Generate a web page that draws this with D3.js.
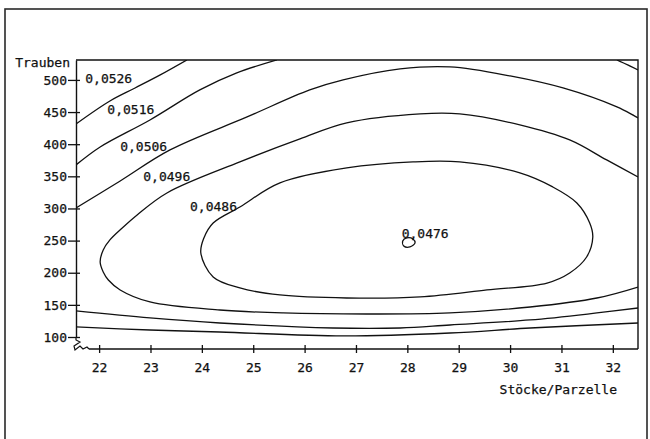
<!DOCTYPE html>
<html>
<head>
<meta charset="utf-8">
<script src="https://cdn.jsdelivr.net/npm/d3@7"></script>
<style>
  html, body { margin: 0; padding: 0; background: #fff; }
  svg { display: block; }
  text { font-family: "DejaVu Sans Mono", "Liberation Mono", monospace; font-size: 13px; fill: #111;
         stroke: #111; stroke-width: 0.25px; }
</style>
</head>
<body>
<svg id="chart" width="650" height="439"></svg>
<script>
// Axis ticks
const xTicks = [22, 23, 24, 25, 26, 27, 28, 29, 30, 31, 32];
const yTicks = [100, 150, 200, 250, 300, 350, 400, 450, 500];
const xDomain = [21.55, 32.49];
const yDomain = [100, 531];

// Isolines as [Stöcke/Parzelle, Trauben] points
const line0526 = [[21.55, 431.5], [22.21, 467.3], [22.70, 487.5], [23.19, 507.8], [23.71, 531.1]];
const line0516Upper = [[21.55, 367.7], [22.02, 395.7], [22.99, 437.7], [23.96, 484.4], [24.68, 510.9], [25.46, 531.1]];
const line0516Corner = [[32.08, 531.1], [32.30, 523.0], [32.49, 515.6]];
const line0506Upper = [[21.55, 300.8], [22.41, 342.8], [23.38, 391.1], [24.88, 442.4], [26.10, 484.4], [26.75, 500.0],
  [27.86, 517.1], [28.83, 520.2], [30.00, 506.2], [31.03, 487.5], [32.08, 458.0], [32.49, 440.9]];
const line0506Lower = [[21.55, 140.5], [22.99, 129.6], [24.35, 121.8], [26.55, 114.0], [27.86, 114.0],
  [28.83, 118.7], [30.39, 126.5], [31.69, 137.4], [32.49, 145.1]];
const line0516Lower = [[21.55, 115.6], [22.99, 110.9], [24.35, 107.8], [26.75, 101.6], [28.83, 106.2],
  [30.39, 114.0], [32.49, 121.8]];
const line0496 = [[32.49, 349.0], [31.88, 375.5], [31.16, 406.6], [30.19, 430.0], [29.02, 447.1], [28.25, 447.1],
  [26.82, 433.1], [25.91, 408.2], [24.74, 372.4], [23.32, 324.1], [22.74, 289.9], [22.45, 269.6],
  [22.21, 251.0], [22.08, 235.4], [22.02, 216.7], [22.08, 201.2], [22.18, 188.7], [22.41, 173.2],
  [22.99, 154.5], [24.35, 142.0], [25.58, 137.4], [27.21, 135.8], [28.83, 137.4], [30.39, 146.7],
  [31.69, 160.7], [32.49, 177.8]];
const ring0486 = [[23.98, 230.7], [24.04, 254.1], [24.22, 277.4], [24.74, 302.3], [25.52, 339.7], [26.82, 363.0],
  [28.11, 372.4], [29.02, 372.4], [30.19, 355.3], [30.83, 333.5], [31.30, 308.6], [31.55, 277.4],
  [31.61, 255.6], [31.49, 224.5], [31.16, 199.6], [30.72, 184.0], [29.55, 173.2], [28.25, 162.3],
  [26.82, 160.7], [25.52, 165.4], [24.74, 176.3], [24.22, 193.4]];
const ring0476 = [[27.91, 249.4], [27.99, 254.1], [28.11, 252.5], [28.15, 246.3], [28.05, 240.1], [27.93, 241.6]];

// Level labels and their anchors
const labelLevels = [0.0526, 0.0516, 0.0506, 0.0496, 0.0486, 0.0476];
const labelX = [21.73, 22.16, 22.41, 22.86, 23.77, 27.89];
const labelY = [495.3, 447.1, 389.5, 342.8, 296.1, 254.1];

const svg = d3.select("#chart");
const plotLeft = 76, plotRight = 638, plotTop = 60, plotBottom = 337, xAxisY = 349;

const x = d3.scaleLinear().domain(xDomain).range([plotLeft, plotRight]);
const y = d3.scaleLinear().domain(yDomain).range([plotBottom, plotTop]);

const de = d3.formatLocale({ decimal: ",", thousands: ".", grouping: [3], currency: ["", ""] });
const fmtLevel = de.format(".4f");

// outer frame
svg.append("rect")
  .attr("x", 5).attr("y", 9).attr("width", 642).attr("height", 440)
  .attr("fill", "none").attr("stroke", "#2a2a2a").attr("stroke-width", 1.6);

// clip for isolines
svg.append("clipPath").attr("id", "plotClip")
  .append("rect").attr("x", plotLeft).attr("y", plotTop)
  .attr("width", plotRight - plotLeft).attr("height", xAxisY - plotTop);

const openLine = d3.line().x(d => x(d[0])).y(d => y(d[1])).curve(d3.curveCatmullRom.alpha(0.5));
const closedLine = d3.line().x(d => x(d[0])).y(d => y(d[1])).curve(d3.curveCatmullRomClosed.alpha(0.5));

const g = svg.append("g").attr("clip-path", "url(#plotClip)");
[line0526, line0516Upper, line0516Corner, line0506Upper, line0506Lower, line0516Lower, line0496].forEach(pts => {
  g.append("path").attr("d", openLine(pts))
    .attr("fill", "none").attr("stroke", "#111").attr("stroke-width", 1.3);
});
[ring0486, ring0476].forEach(pts => {
  g.append("path").attr("d", closedLine(pts))
    .attr("fill", "none").attr("stroke", "#111").attr("stroke-width", 1.3);
});

// top and right border of the plot
svg.append("path")
  .attr("d", `M${plotLeft},${plotTop}H${plotRight}V${xAxisY}`)
  .attr("fill", "none").attr("stroke", "#111").attr("stroke-width", 1.4);

// y axis
const yAxis = svg.append("g").attr("transform", `translate(${plotLeft},0)`)
  .call(d3.axisLeft(y).tickValues(yTicks).tickSizeInner(8).tickSizeOuter(0).tickPadding(1));
yAxis.attr("font-family", null).attr("font-size", null);
yAxis.select(".domain").attr("stroke", "#111").attr("stroke-width", 1.4);
yAxis.selectAll(".tick line").attr("x1", 4).attr("stroke", "#111").attr("stroke-width", 1.3);
yAxis.selectAll(".tick text").attr("fill", "#111");

// axis break between the two axes
svg.append("path")
  .attr("d", `M${plotLeft},${plotBottom}L${plotLeft},${plotBottom + 3}L${plotLeft + 4},${plotBottom + 5}L${plotLeft - 2},${plotBottom + 9}L${plotLeft - 1},${plotBottom + 13}L${plotLeft + 4},${plotBottom + 9}L${plotLeft + 7},${plotBottom + 12}L${plotLeft + 11},${plotBottom + 10}L${plotLeft + 13},${xAxisY}`)
  .attr("fill", "none").attr("stroke", "#111").attr("stroke-width", 1.2);

// x axis
const xAxis = svg.append("g").attr("transform", `translate(0,${xAxisY})`)
  .call(d3.axisBottom(x).tickValues(xTicks).tickSizeInner(4).tickSizeOuter(0).tickPadding(3));
xAxis.attr("font-family", null).attr("font-size", null);
xAxis.select(".domain").remove();
xAxis.append("line").attr("x1", plotLeft + 13).attr("x2", plotRight).attr("y1", 0).attr("y2", 0)
  .attr("stroke", "#111").attr("stroke-width", 1.4);
xAxis.selectAll(".tick line").attr("y1", -4).attr("stroke", "#111").attr("stroke-width", 1.3);
xAxis.selectAll(".tick text").attr("y", 23).attr("dy", 0).attr("fill", "#111");

// axis titles
svg.append("text").attr("x", 70).attr("y", 67).attr("text-anchor", "end").text("Trauben");
svg.append("text").attr("x", 617).attr("y", 394).attr("text-anchor", "end").text("Stöcke/Parzelle");

// level labels
svg.append("g").selectAll("text").data(labelLevels).join("text")
  .attr("x", (d, i) => x(labelX[i]))
  .attr("y", (d, i) => y(labelY[i]))
  .text(d => fmtLevel(d));
</script>
</body>
</html>
